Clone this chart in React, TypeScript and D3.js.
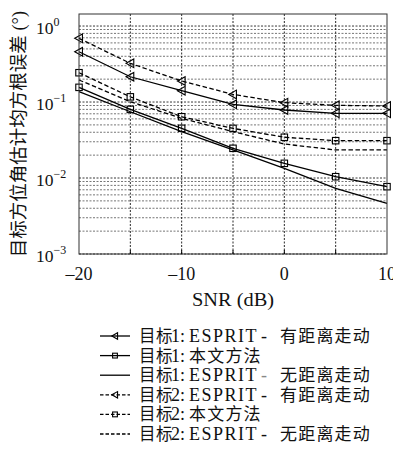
import * as d3 from "d3";

// SNR (dB) sample points
const snr = [-20, -15, -10, -5, 0, 5, 10];

// RMSE (deg)
const t1EspritMig = [0.459, 0.215, 0.141, 0.0933, 0.0785, 0.071, 0.071];
const t1Proposed = [0.156, 0.08, 0.0451, 0.0246, 0.0156, 0.0104, 0.00769];
const t1EspritNoMig = [0.137, 0.0745, 0.0407, 0.0234, 0.0134, 0.00731, 0.00465];
const t2EspritMig = [0.689, 0.323, 0.189, 0.126, 0.098, 0.0905, 0.0886];
const t2Proposed = [0.243, 0.117, 0.064, 0.045, 0.0344, 0.031, 0.031];
const t2EspritNoMig = [0.195, 0.101, 0.061, 0.0407, 0.028, 0.0234, 0.0234];

// legend: target number, whether it's an ESPRIT entry, chinese suffix
const legendTarget = ["1", "1", "1", "2", "2", "2"];
const legendEsprit = [true, false, true, true, false, true];
const legendSuffix = ["有距离走动", "本文方法", "无距离走动", "有距离走动", "本文方法", "无距离走动"];

const xTicks = [-20, -10, 0, 10];
const yDecades = [-3, -2, -1, 0];

type Marker = "tri" | "sq" | "none";
interface Series {
  values: number[];
  dashed: boolean;
  marker: Marker;
}

const series: Series[] = [
  { values: t1EspritMig, dashed: false, marker: "tri" },
  { values: t1Proposed, dashed: false, marker: "sq" },
  { values: t1EspritNoMig, dashed: false, marker: "none" },
  { values: t2EspritMig, dashed: true, marker: "tri" },
  { values: t2Proposed, dashed: true, marker: "sq" },
  { values: t2EspritNoMig, dashed: true, marker: "none" },
];

const SERIF = "'Liberation Serif', 'DejaVu Serif', 'Noto Sans CJK SC', serif";
const CJK = "'Noto Sans CJK SC', sans-serif";
const DASH = "4.5 2.5";

function MarkerShape({ type, x, y, s }: { type: Marker; x: number; y: number; s: number }) {
  if (type === "tri") {
    const pts = [
      [x - s, y],
      [x + s * 0.8, y - s],
      [x + s * 0.8, y + s],
    ]
      .map((p) => p.join(","))
      .join(" ");
    return <polygon points={pts} fill="none" stroke="#000" strokeWidth={1.1} />;
  }
  if (type === "sq") {
    return (
      <rect x={x - s * 0.75} y={y - s * 0.75} width={s * 1.5} height={s * 1.5} fill="none" stroke="#000" strokeWidth={1.1} />
    );
  }
  return null;
}

export default function App() {
  const width = 393;
  const height = 452;
  const left = 79;
  const right = 387;
  const top = 14;
  const bottom = 254;

  const x = d3.scaleLinear().domain([-20, 10]).range([left, right]);
  const y = d3.scaleLog().domain([1e-3, 1.44]).range([bottom, top]);

  const line = d3
    .line<number>()
    .x((_, i) => x(snr[i]))
    .y((d) => y(d));

  // minor + major horizontal grid values
  const hGrid: number[] = [];
  yDecades.forEach((e) => {
    for (let k = 1; k <= 9; k++) {
      const v = k * Math.pow(10, e);
      if (v <= 1.44) hGrid.push(v);
    }
  });
  const vGrid = d3.range(-15, 10, 5);

  const legendY = d3.range(6).map((i) => 336 + i * 19.6);

  return (
    <svg
      width={width}
      height={height}
      style={{ position: "absolute", left: 0, top: 0, background: "#fff" }}
    >
      {/* grid */}
      {hGrid.map((v, i) => (
        <line
          key={"h" + i}
          x1={left}
          x2={right}
          y1={y(v)}
          y2={y(v)}
          stroke={Number.isInteger(Math.log10(v)) ? "#222" : "#666"}
          strokeWidth={0.9}
          strokeDasharray="2 1.5"
        />
      ))}
      {vGrid.map((v) => (
        <line
          key={"v" + v}
          x1={x(v)}
          x2={x(v)}
          y1={top}
          y2={bottom}
          stroke="#111"
          strokeWidth={0.9}
          strokeDasharray="2 1.5"
        />
      ))}

      {/* series */}
      {series.map((s, i) => (
        <g key={"s" + i}>
          <path
            d={line(s.values) ?? ""}
            fill="none"
            stroke="#000"
            strokeWidth={1.3}
            strokeDasharray={s.dashed ? DASH : undefined}
          />
          {s.values.map((v, j) => (
            <MarkerShape key={j} type={s.marker} x={x(snr[j])} y={y(v)} s={4.3} />
          ))}
        </g>
      ))}

      {/* axes box */}
      <rect x={left} y={top} width={right - left} height={bottom - top} fill="none" stroke="#333" strokeWidth={1} />
      {vGrid.map((v) => (
        <line key={"bt" + v} x1={x(v)} x2={x(v)} y1={bottom} y2={bottom - 4} stroke="#000" />
      ))}

      {/* x tick labels */}
      {xTicks.map((t) => (
        <text
          key={"xt" + t}
          x={x(t)}
          y={280}
          textAnchor="middle"
          fontFamily={SERIF}
          fontSize={18}
          fill="#111"
        >
          {t < 0 ? "\u2013" + Math.abs(t) : t}
        </text>
      ))}
      <text
        x={(left + right) / 2}
        y={306}
        textAnchor="middle"
        fontFamily={SERIF}
        fontSize={18}
        textLength={82}
        lengthAdjust="spacingAndGlyphs"
        fill="#111"
      >
        SNR (dB)
      </text>

      {/* y tick labels */}
      {yDecades.map((e) => (
        <text key={"yt" + e} x={36} y={y(Math.pow(10, e)) + 7.5} fontFamily={SERIF} fontSize={17.5} fill="#111">
          10
          <tspan fontSize={12} dy={-8}>
            {e === 0 ? "0" : "\u2212" + Math.abs(e)}
          </tspan>
        </text>
      ))}

      {/* y label */}
      <text
        transform={`translate(25,${(10 + 258) / 2}) rotate(-90)`}
        textAnchor="middle"
        fontFamily={SERIF}
        fontSize={18.5}
        fill="#111"
      >
        目标方位角估计均方根误差 (°)
      </text>

      {/* legend */}
      {series.map((s, i) => {
        const ly = legendY[i];
        const base = ly + 6;
        return (
          <g key={"l" + i}>
            <line
              x1={100}
              x2={130}
              y1={ly}
              y2={ly}
              stroke="#000"
              strokeWidth={1.3}
              strokeDasharray={s.dashed ? "3.5 2" : undefined}
            />
            <MarkerShape type={s.marker} x={115} y={ly} s={3.2} />
            <text y={base} fill="#111">
              <tspan x={139} fontFamily={CJK} fontSize={16.5} letterSpacing={0.5}>
                目标
              </tspan>
              <tspan x={171} fontFamily={SERIF} fontSize={18}>
                {legendTarget[i] + ":"}
              </tspan>
              {legendEsprit[i] && (
                <tspan x={189} fontFamily={SERIF} fontSize={18} letterSpacing={1.5}>
                  ESPRIT
                </tspan>
              )}
              {legendEsprit[i] && (
                <tspan x={261} fontFamily={SERIF} fontSize={18} fill={i === 2 ? "#888" : "#111"}>
                  -
                </tspan>
              )}
              <tspan
                x={legendEsprit[i] ? 280 : 189}
                fontFamily={CJK}
                fontSize={17}
                letterSpacing={1.2}
              >
                {legendSuffix[i]}
              </tspan>
            </text>
          </g>
        );
      })}
    </svg>
  );
}
